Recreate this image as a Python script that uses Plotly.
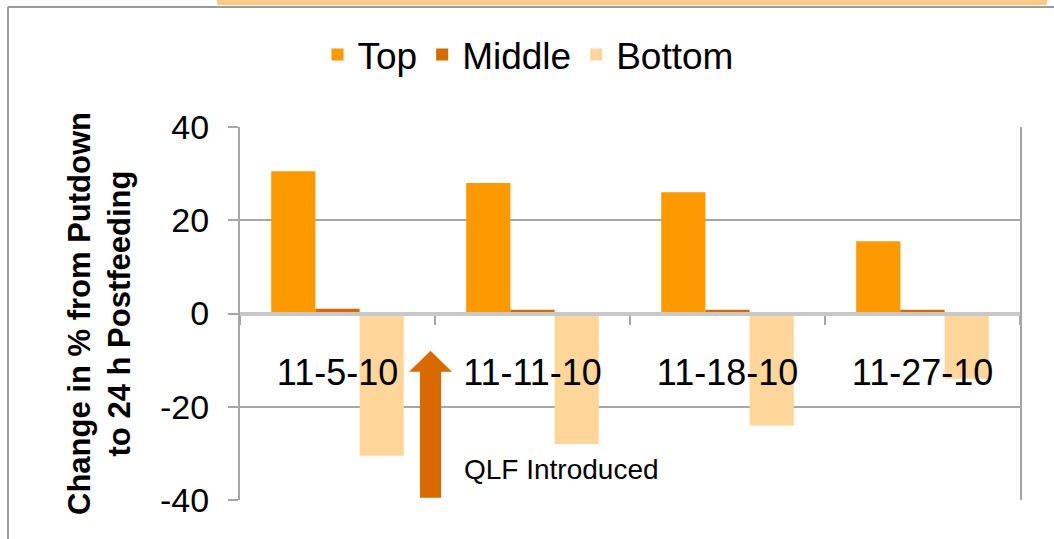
import plotly.graph_objects as go

# ---- data ----
categories = ["11-5-10", "11-11-10", "11-18-10", "11-27-10"]
top_vals = [30.5, 28.0, 26.0, 15.5]
middle_vals = [1.0, 0.8, 0.8, 0.8]
bottom_vals = [-30.5, -28.0, -24.0, -14.0]
series_names = ["Top", "Middle", "Bottom"]
y_tick_vals = [-40, -20, 0, 20, 40]
y_tick_labels = ["-40", "-20", "0", "20", "40"]
annotation_text = "QLF Introduced"

# ---- style ----
FONT = "Liberation Sans, Arial, sans-serif"
C_TOP = "#FF9900"
C_MID = "#D46A00"
C_BOT = "#FFD699"
C_ARROW = "#D96A00"
GRID = "#A6A6A6"

W, H = 1054, 539
ML, MR, MT, MB = 240, 34, 127, 39
PW = W - ML - MR
PH = H - MT - MB


def px_x(x):
    return (x - ML) / PW


def px_y(y):
    return (H - MB - y) / PH


fig = go.Figure()
for name, vals, col in zip(series_names, [top_vals, middle_vals, bottom_vals], [C_TOP, C_MID, C_BOT]):
    fig.add_trace(go.Bar(
        x=categories, y=vals, name=name,
        marker=dict(color=col, line=dict(width=0)),
    ))

fig.update_layout(
    width=W, height=H,
    margin=dict(l=ML, r=MR, t=MT, b=MB, pad=0),
    paper_bgcolor="white", plot_bgcolor="white",
    barmode="group", bargap=0.32, bargroupgap=0,
    font=dict(family=FONT, color="black"),
    showlegend=True,
    legend=dict(
        orientation="h", x=px_x(528), xanchor="center",
        y=px_y(55), yanchor="middle",
        font=dict(size=37, family=FONT), bgcolor="rgba(0,0,0,0)",
        itemclick=False,
    ),
    xaxis=dict(
        type="category", anchor="free", position=0.5,
        showline=True, linecolor="#C8C8C8", linewidth=4,
        ticks="outside", tickson="boundaries", ticklen=9, tickwidth=2, tickcolor=GRID,
        ticklabelstandoff=26,
        tickfont=dict(size=36, family=FONT),
        showgrid=False, zeroline=False,
    ),
    yaxis=dict(
        range=[-40, 40], tickvals=y_tick_vals, ticktext=y_tick_labels,
        showgrid=True, gridcolor=GRID, gridwidth=2,
        zeroline=True, zerolinecolor=GRID, zerolinewidth=2,
        showline=True, linecolor=GRID, linewidth=2, mirror=True,
        ticks="outside", ticklen=10, tickwidth=2, tickcolor=GRID,
        ticklabelstandoff=12,
        tickfont=dict(size=34, family=FONT),
        title=dict(
            text="<b>Change in % from Putdown<br>to 24 h Postfeeding</b>",
            font=dict(size=31, family=FONT), standoff=20,
        ),
        automargin=True,
    ),
)

shapes = []
# top peach strip
shapes.append(dict(type="rect", xref="paper", yref="paper",
                   x0=px_x(217), x1=px_x(1047), y0=px_y(0), y1=px_y(5),
                   fillcolor="#FFC98A", line=dict(width=0), layer="above"))
# gray frame lines
shapes.append(dict(type="line", xref="paper", yref="paper",
                   x0=px_x(8), x1=px_x(W), y0=px_y(7), y1=px_y(7),
                   line=dict(color="#9A9A9A", width=2), layer="above"))
shapes.append(dict(type="line", xref="paper", yref="paper",
                   x0=px_x(8), x1=px_x(8), y0=px_y(7), y1=px_y(H),
                   line=dict(color="#9A9A9A", width=2), layer="above"))
# block arrow (QLF introduced) between first two categories
ax_c = 0.477
sh, hh = 0.054, 0.11
y_base, y_head, y_tip = -39.5, -12.5, -8
path = (f"M {ax_c - sh} {y_base} L {ax_c - sh} {y_head} L {ax_c - hh} {y_head} "
        f"L {ax_c} {y_tip} L {ax_c + hh} {y_head} L {ax_c + sh} {y_head} L {ax_c + sh} {y_base} Z")
shapes.append(dict(type="path", xref="x", yref="y", path=path,
                   fillcolor=C_ARROW, line=dict(width=0), layer="above"))
fig.update_layout(shapes=shapes)

fig.add_annotation(
    x=px_x(462), y=-33.5, xref="paper", yref="y",
    text=annotation_text, showarrow=False, xanchor="left", yanchor="middle",
    font=dict(size=28, family=FONT, color="black"),
)

fig.write_html("out.html", config={"displayModeBar": False},
               post_script="document.body.style.margin='0';")
